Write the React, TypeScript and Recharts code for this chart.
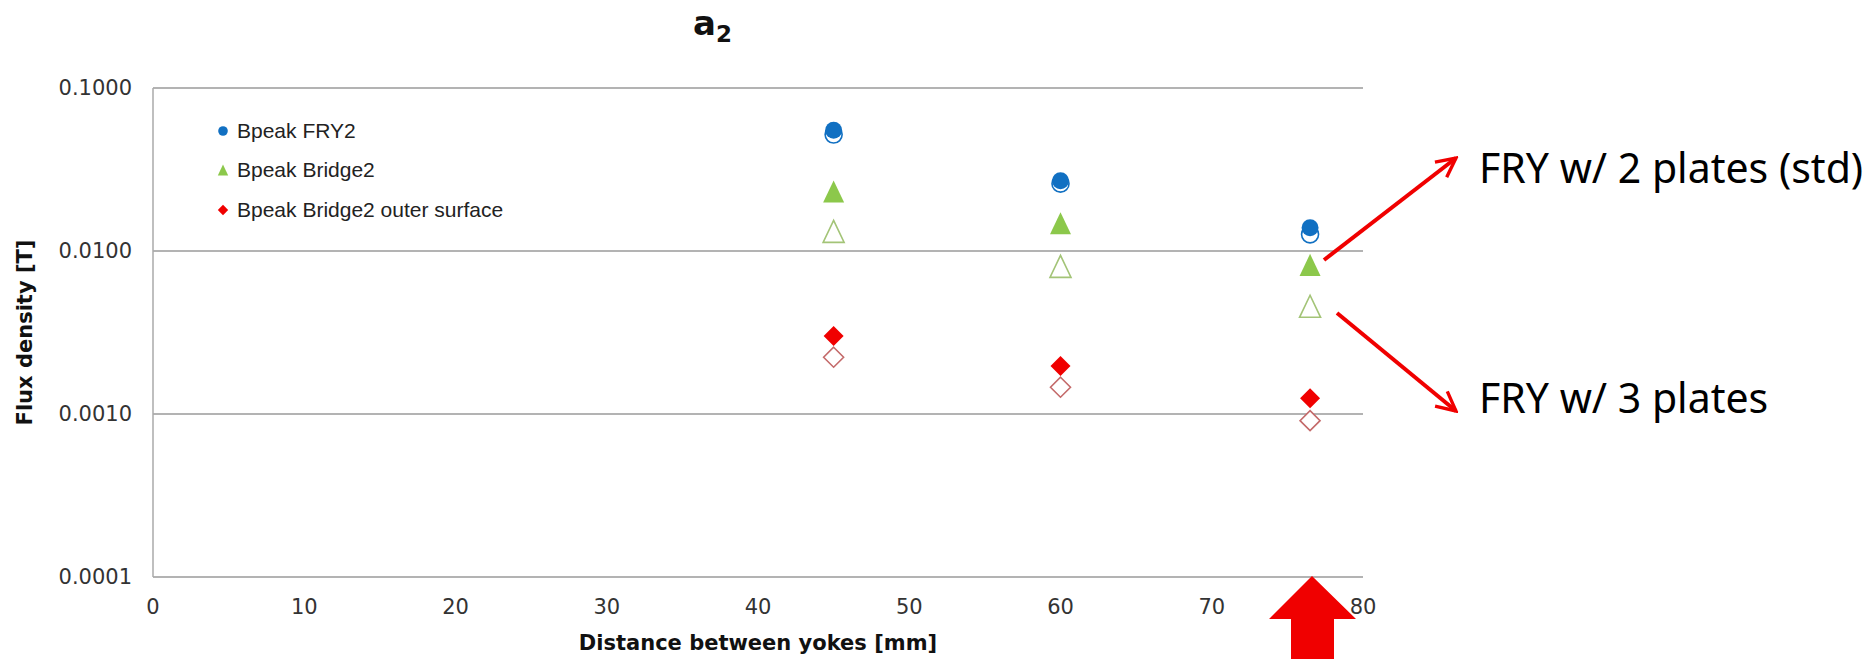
import { ReactElement } from 'react'
import {
   ScatterChart,
   Scatter,
   XAxis,
   YAxis,
   CartesianGrid,
   Legend
} from 'recharts'

// distance between yokes [mm]
const distances = [45, 60, 76.5]

// peak flux density [T], filled = FRY w/ 2 plates, open = FRY w/ 3 plates
const fry2Filled = [0.0550, 0.0270, 0.0139]
const fry2Open = [0.0518, 0.0259, 0.01265]
const bridge2Filled = [0.0232, 0.0148, 0.00822]
const bridge2Open = [0.0132, 0.00805, 0.00458]
const outerFilled = [0.00301, 0.00197, 0.00125]
const outerOpen = [0.00223, 0.00146, 0.00091]

const xTicks = [0, 10, 20, 30, 40, 50, 60, 70, 80]
const yTicks = [0.0001, 0.001, 0.01, 0.1]

const seriesNames = ['Bpeak FRY2', 'Bpeak Bridge2', 'Bpeak Bridge2 outer surface']

const colorBlue = '#1170c2'
const colorGreen = '#8cc84b'
const colorRed = '#f00000'
const colorGrid = '#9a9a9a'
const colorLabelAxis = '#333'
const fontAxis = '"DejaVu Sans", Verdana, sans-serif'

const W = 1873
const H = 659

const toPoints = (values: number[]) => distances.map((x, i) => ({ x, y: values[i] }))

type MarkerKind = 'circle' | 'triangle' | 'diamond'

const markerPath = (kind: MarkerKind, cx: number, cy: number, r: number) => {
   if (kind === 'triangle') {
      return `M${cx},${cy - r * 1.05} L${cx + r},${cy + r * 1.05} L${cx - r},${cy + r * 1.05} Z`
   }
   if (kind === 'diamond') {
      return `M${cx},${cy - r} L${cx + r},${cy} L${cx},${cy + r} L${cx - r},${cy} Z`
   }
   return ''
}

const makeShape = (kind: MarkerKind, r: number, fill: string, stroke: string, sw: number) => (props: any) => {
   const { cx, cy } = props
   if (cx == null || cy == null) return <g />
   if (kind === 'circle') {
      return <circle cx={ cx } cy={ cy } r={ r } fill={ fill } stroke={ stroke } strokeWidth={ sw } />
   }
   return <path d={ markerPath(kind, cx, cy, r) } fill={ fill } stroke={ stroke } strokeWidth={ sw } />
}

const legendItems: { name: string, kind: MarkerKind, color: string }[] = [
   { name: seriesNames[0], kind: 'circle', color: colorBlue },
   { name: seriesNames[1], kind: 'triangle', color: colorGreen },
   { name: seriesNames[2], kind: 'diamond', color: colorRed }
]

const renderLegend = () => (
   <div>
      { legendItems.map(item => (
         <div key={ item.name } style={{ display: 'flex', alignItems: 'center', height: 39.5 }}>
            <svg width={ 16 } height={ 16 }>
               { item.kind === 'circle'
                  ? <circle cx={ 8 } cy={ 8 } r={ 4.8 } fill={ item.color } />
                  : <path d={ markerPath(item.kind, 8, 8, 5.2) } fill={ item.color } /> }
            </svg>
            <span style={{ marginLeft: 6, fontFamily: '"Liberation Sans", Arial, sans-serif', fontSize: 21, color: '#222' }}>
               { item.name }
            </span>
         </div>
      )) }
   </div>
)

const renderYLabel = (props: any) => {
   const vb = props.viewBox || { y: 88, height: 489 }
   const cy = vb.y + vb.height / 2
   return (
      <text
         x={ 25 }
         y={ cy }
         transform={ `rotate(-90, 25, ${cy})` }
         textAnchor='middle'
         dominantBaseline='central'
         style={{ fontFamily: fontAxis, fontWeight: 'bold', fontSize: 21, fill: '#111' }}
      >
         Flux density [T]
      </text>
   )
}

const Annotations = (): ReactElement => (
   <svg width={ W } height={ H } style={{ position: 'absolute', left: 0, top: 0, pointerEvents: 'none' }}>
      <defs>
         <marker id='head' viewBox='0 0 10 10' refX='9' refY='5' markerWidth='6' markerHeight='6' orient='auto'>
            <path d='M1,1 L9,5 L1,9' fill='none' stroke={ colorRed } strokeWidth='1.4' />
         </marker>
      </defs>

      <text x={ 693 } y={ 35 } style={{ fontFamily: fontAxis, fontWeight: 'bold', fontSize: 34, fill: '#111' }}>
         a<tspan fontSize={ 23 } dy={ 7 }>2</tspan>
      </text>

      <line x1={ 1324 } y1={ 260 } x2={ 1456 } y2={ 158 } stroke={ colorRed } strokeWidth={ 4 } markerEnd='url(#head)' />
      <line x1={ 1337 } y1={ 313 } x2={ 1456 } y2={ 411 } stroke={ colorRed } strokeWidth={ 4 } markerEnd='url(#head)' />

      <text x={ 1479 } y={ 183 } style={{ fontFamily: '"Noto Sans", sans-serif', fontSize: 41, fill: '#000' }}>
         FRY w/ 2 plates (std)
      </text>
      <text x={ 1479 } y={ 413 } style={{ fontFamily: '"Noto Sans", sans-serif', fontSize: 41, fill: '#000' }}>
         FRY w/ 3 plates
      </text>

      <polygon
         points='1312,576 1356,619 1334,619 1334,659 1291,659 1291,619 1269,619'
         fill={ colorRed }
      />
   </svg>
)

export default function App(): ReactElement {
   return (
      <div style={{ position: 'absolute', left: 0, top: 0, width: W, height: H, background: '#fff' }}>
         <ScatterChart
            width={ W }
            height={ H }
            margin={{ top: 88, right: 510, bottom: 0, left: 0 }}
         >
            <CartesianGrid vertical={ false } stroke={ colorGrid } strokeWidth={ 1.5 } />

            <XAxis
               dataKey='x'
               type='number'
               domain={ [0, 80] }
               ticks={ xTicks }
               height={ 82 }
               axisLine={ false }
               tickLine={ false }
               tickSize={ 0 }
               tickMargin={ 22 }
               tick={{ fontSize: 21, fontFamily: fontAxis, fill: colorLabelAxis }}
               label={{
                  value: 'Distance between yokes [mm]',
                  position: 'insideBottom',
                  offset: 9,
                  style: { fontFamily: fontAxis, fontWeight: 'bold', fontSize: 21, fill: '#111' }
               }}
            />

            <YAxis
               dataKey='y'
               type='number'
               scale='log'
               domain={ [0.0001, 0.1] }
               ticks={ yTicks }
               allowDataOverflow
               width={ 153 }
               stroke='#aaa'
               strokeWidth={ 1.5 }
               tickLine={ false }
               tickSize={ 0 }
               tickMargin={ 21 }
               tickFormatter={ (v: number) => v.toFixed(4) }
               tick={{ fontSize: 21, fontFamily: fontAxis, fill: colorLabelAxis }}
               label={{ content: renderYLabel }}
            />

            <Legend
               layout='vertical'
               align='center'
               verticalAlign='middle'
               content={ renderLegend }
               wrapperStyle={{ left: 215, top: 111, width: 'auto' }}
            />

            {/* open markers (3 plates) first so the filled ones sit on top */}
            <Scatter name='FRY2 3 plates' data={ toPoints(fry2Open) } legendType='none' isAnimationActive={ false }
               shape={ makeShape('circle', 8.5, '#fff', colorBlue, 1.6) } />
            <Scatter name='Bridge2 3 plates' data={ toPoints(bridge2Open) } legendType='none' isAnimationActive={ false }
               shape={ makeShape('triangle', 10.5, '#fff', '#a3c477', 1.6) } />
            <Scatter name='Outer 3 plates' data={ toPoints(outerOpen) } legendType='none' isAnimationActive={ false }
               shape={ makeShape('diamond', 10, '#fff', '#c46a6a', 1.6) } />

            <Scatter name={ seriesNames[0] } data={ toPoints(fry2Filled) } legendType='circle' fill={ colorBlue } isAnimationActive={ false }
               shape={ makeShape('circle', 8.5, colorBlue, colorBlue, 0) } />
            <Scatter name={ seriesNames[1] } data={ toPoints(bridge2Filled) } legendType='triangle' fill={ colorGreen } isAnimationActive={ false }
               shape={ makeShape('triangle', 10.5, colorGreen, colorGreen, 0) } />
            <Scatter name={ seriesNames[2] } data={ toPoints(outerFilled) } legendType='diamond' fill={ colorRed } isAnimationActive={ false }
               shape={ makeShape('diamond', 10, colorRed, colorRed, 0) } />
         </ScatterChart>

         <Annotations />
      </div>
   )
}
